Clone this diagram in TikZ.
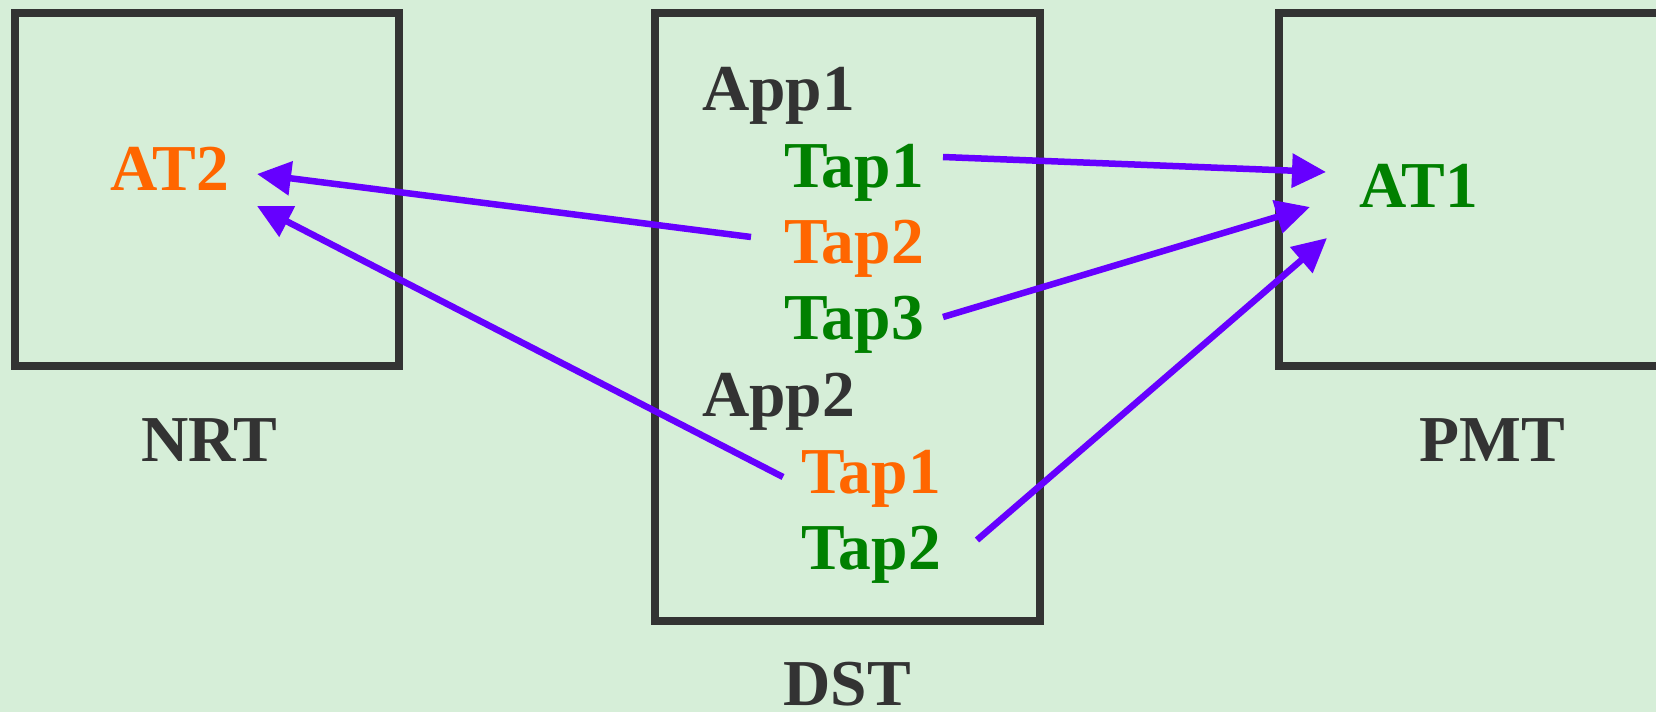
\documentclass[tikz,border=0pt]{standalone}
\usepackage{fontspec}
\setmainfont{Liberation Serif}
\usetikzlibrary{arrows.meta}

\definecolor{bgmint}{HTML}{D6EED8}
\definecolor{frame}{HTML}{333333}
\definecolor{tapgreen}{HTML}{008000}
\definecolor{taporange}{HTML}{FF6600}
\definecolor{flow}{HTML}{6600FF}

\tikzset{
  box/.style={draw=frame, line width=8pt},
  lbl/.style={inner sep=0pt, anchor=base west, font=\fontsize{65.5}{72}\selectfont\bfseries},
  title/.style={lbl, text=frame, anchor=base},
  app/.style={lbl, text=frame},
  good/.style={lbl, text=tapgreen},
  bad/.style={lbl, text=taporange},
  link/.style={draw=flow, line width=6.5pt, -{Triangle[length=34pt,width=33pt]}}
}

\begin{document}
\begin{tikzpicture}[x=1pt, y=-1pt]
  % canvas
  \fill[bgmint] (0,0) rectangle (1656,712);
  \useasboundingbox (0,0) rectangle (1656,712);
  \clip (0,0) rectangle (1656,712);

  % the three systems
  \draw[box] (15,13) rectangle (399,366);
  \draw[box] (655,13) rectangle (1040,621);
  \draw[box] (1279,13) rectangle (1720,366);

  \node[title] (nrt) at (209,461) {NRT};
  \node[title] (dst) at (847,705) {DST};
  \node[title] (pmt) at (1492,461) {PMT};

  % targets
  \node[bad]  (at2) at (110,190) {AT2};
  \node[good] (at1) at (1359,207) {AT1};

  % applications and their taps
  \node[app]  (app1) at (702,110) {App1};
  \node[good] (a1t1) at (784,187) {Tap1};
  \node[bad]  (a1t2) at (784,263) {Tap2};
  \node[good] (a1t3) at (784,339) {Tap3};
  \node[app]  (app2) at (702,416) {App2};
  \node[bad]  (a2t1) at (801,493) {Tap1};
  \node[good] (a2t2) at (801,569) {Tap2};

  % flows
  \draw[link] ([shift={(159,-30)}]a1t1.base west) -- ([shift={(-33,-35)}]at1.base west);
  \draw[link] ([shift={(-33,-26)}]a1t2.base west) -- ([shift={(147,-16)}]at2.base west);
  \draw[link] ([shift={(159,-22)}]a1t3.base west) -- ([shift={(-49,0)}]at1.base west);
  \draw[link] ([shift={(-18,-16)}]a2t1.base west) -- ([shift={(147,16)}]at2.base west);
  \draw[link] ([shift={(176,-29)}]a2t2.base west) -- ([shift={(-32,31)}]at1.base west);
\end{tikzpicture}
\end{document}
